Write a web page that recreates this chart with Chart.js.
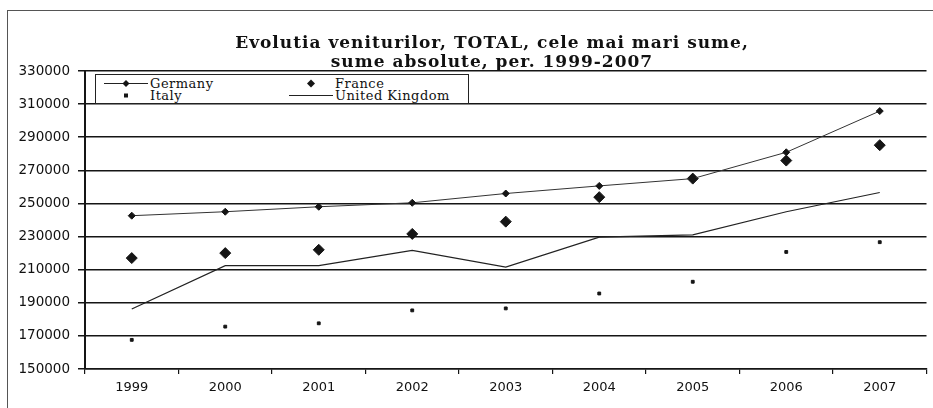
<!DOCTYPE html>
<html>
<head>
<meta charset="utf-8">
<script src="https://cdn.jsdelivr.net/npm/chart.js@4/dist/chart.umd.min.js"></script>
<style>
  html, body { margin: 0; padding: 0; background: #fff; }
  #wrap { position: relative; width: 933px; height: 408px; overflow: hidden; }
  #frame { position: absolute; left: 7px; top: 10px; width: 940px; height: 410px; border: 1px solid #555; }
  #title {
    position: absolute; left: 0; top: 33px; width: 984px; text-align: center;
    font: bold 17px "DejaVu Serif", serif; line-height: 19px; letter-spacing: 1px; color: #111;
  }
  #legend {
    position: absolute; left: 95px; top: 74px; width: 372px; height: 28px;
    border: 1.5px solid #222; background: #fff;
    font: 13px "DejaVu Serif", serif; color: #111; letter-spacing: 0.5px;
  }
  #legend .item { position: absolute; height: 13px; line-height: 13px; white-space: nowrap; }
  #legend svg { position: absolute; top: 0; }
  #legend .lbl { position: absolute; top: 0; }
  canvas { position: absolute; left: 0; top: 0; }
</style>
</head>
<body>
<div id="wrap">
  <div id="frame"></div>
  <canvas id="chart" width="933" height="408"></canvas>
  <div id="title">Evolutia veniturilor, TOTAL, cele mai mari sume,<br>sume absolute, per. 1999-2007</div>
  <div id="legend"></div>
</div>
<script>
  // Categories and series
  const years = ['1999', '2000', '2001', '2002', '2003', '2004', '2005', '2006', '2007'];
  const germany = [242600, 245000, 248000, 250400, 256000, 260600, 265000, 280900, 305800];
  const france = [217000, 220000, 222000, 231600, 239000, 253800, 265000, 275900, 285200];
  const italy = [167600, 175600, 177600, 185400, 186600, 195600, 202700, 220700, 226600];
  const unitedKingdom = [186200, 212400, 212500, 221600, 211600, 229600, 231000, 245000, 256600];
  const yTicks = [150000, 170000, 190000, 210000, 230000, 250000, 270000, 290000, 310000, 330000];

  const ink = '#151515';

  const ctx = document.getElementById('chart').getContext('2d');
  new Chart(ctx, {
    type: 'line',
    data: {
      labels: years,
      datasets: [
        {
          label: 'Germany',
          data: germany,
          borderColor: '#333',
          borderWidth: 1,
          pointStyle: 'rectRot',
          pointRadius: 3.5,
          pointBackgroundColor: ink,
          pointBorderColor: ink,
          tension: 0
        },
        {
          label: 'France',
          data: france,
          showLine: false,
          pointStyle: 'rectRot',
          pointRadius: 5.5,
          pointBackgroundColor: ink,
          pointBorderColor: ink
        },
        {
          label: 'Italy',
          data: italy,
          showLine: false,
          pointStyle: 'rect',
          pointRadius: 2,
          pointBackgroundColor: ink,
          pointBorderColor: ink
        },
        {
          label: 'United Kingdom',
          data: unitedKingdom,
          borderColor: '#222',
          borderWidth: 1.2,
          pointRadius: 0,
          tension: 0
        }
      ]
    },
    options: {
      responsive: false,
      animation: false,
      layout: { padding: { top: 71, right: 1, left: 0, bottom: 0 } },
      plugins: {
        legend: { display: false },
        title: { display: false },
        tooltip: { enabled: false }
      },
      scales: {
        x: {
          offset: true,
          grid: { offset: true, drawOnChartArea: false, color: ink, lineWidth: 1.2, tickLength: 5 },
          border: { color: ink, width: 1.5 },
          ticks: { color: '#111', font: { family: 'DejaVu Sans', size: 13 }, padding: 6, maxRotation: 0 },
          afterFit: function(scale) { scale.height = 39; }
        },
        y: {
          min: 150000,
          max: 330000,
          afterBuildTicks: function(scale) { scale.ticks = yTicks.map(v => ({ value: v })); },
          grid: { color: ink, lineWidth: 1.5, tickLength: 7 },
          border: { color: ink, width: 2 },
          ticks: {
            color: '#111',
            font: { family: 'DejaVu Sans', size: 13.5 },
            padding: 8,
            callback: function(value) { return String(value); }
          },
          afterFit: function(scale) { scale.width = 85; }
        }
      }
    }
  });

  // Legend drawn as html so it can sit on top of the plot like in the picture
  const legendItems = [
    { name: 'Germany', x: 8, y: 2, line: true, marker: 'diamond', size: 3.5, sampleW: 44 },
    { name: 'France', x: 193, y: 2, line: false, marker: 'diamond', size: 4, sampleW: 44 },
    { name: 'Italy', x: 8, y: 14, line: false, marker: 'square', size: 2, sampleW: 44 },
    { name: 'United Kingdom', x: 193, y: 14, line: true, marker: null, size: 0, sampleW: 44 }
  ];
  const legend = document.getElementById('legend');
  legendItems.forEach(function(it) {
    const el = document.createElement('div');
    el.className = 'item';
    el.style.left = it.x + 'px';
    el.style.top = it.y + 'px';
    const w = it.sampleW, c = 6.5, m = w / 2;
    let svg = '<svg width="' + w + '" height="13" style="left:0">';
    if (it.line) svg += '<line x1="0" y1="' + c + '" x2="' + w + '" y2="' + c + '" stroke="#222" stroke-width="1"/>';
    if (it.marker === 'diamond') {
      const s = it.size;
      svg += '<polygon points="' + (m - s) + ',' + c + ' ' + m + ',' + (c - s) + ' ' + (m + s) + ',' + c + ' ' + m + ',' + (c + s) + '" fill="' + ink + '"/>';
    } else if (it.marker === 'square') {
      svg += '<rect x="' + (m - it.size) + '" y="' + (c - it.size) + '" width="' + (it.size * 2) + '" height="' + (it.size * 2) + '" fill="' + ink + '"/>';
    }
    svg += '</svg>';
    el.innerHTML = svg + '<span class="lbl" style="left:' + (w + 2) + 'px">' + it.name + '</span>';
    legend.appendChild(el);
  });
</script>
</body>
</html>
